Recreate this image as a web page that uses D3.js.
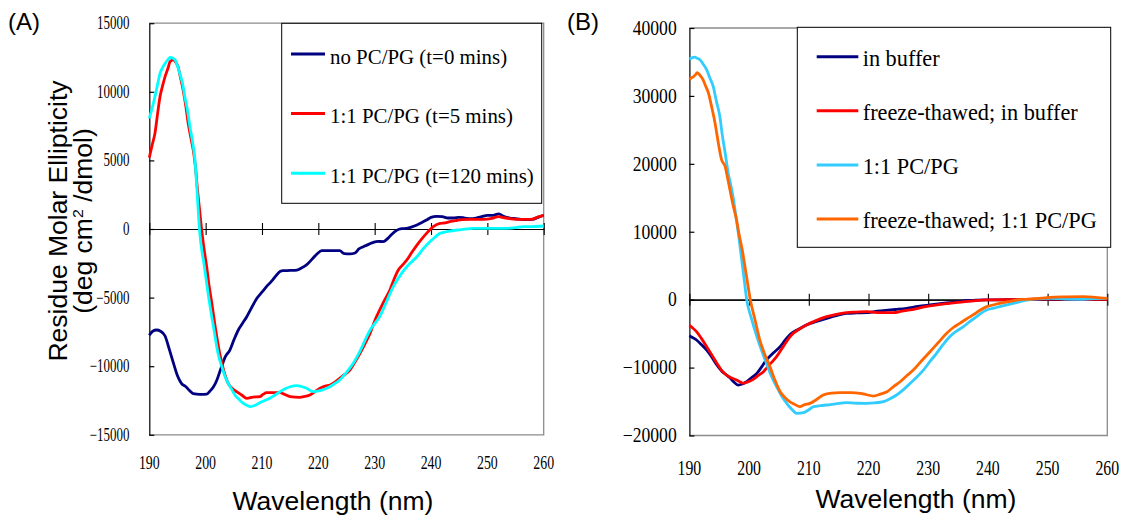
<!DOCTYPE html>
<html>
<head>
<meta charset="utf-8">
<script src="https://cdn.jsdelivr.net/npm/d3@7"></script>
<style>
  body { margin: 0; background: #fff; }
  svg { display: block; }
</style>
</head>
<body>
<svg id="chart" width="1123" height="516"></svg>
<script>
// ---- tick values & labels ----
const wavelengthTicks = [190, 200, 210, 220, 230, 240, 250, 260];
const yTicksA = [15000, 10000, 5000, 0, -5000, -10000, -15000];
const yTicksB = [40000, 30000, 20000, 10000, 0, -10000, -20000];

const legendA = ["no PC/PG (t=0 mins)", "1:1 PC/PG (t=5 mins)", "1:1 PC/PG (t=120 mins)"];
const legendB = ["in buffer", "freeze-thawed; in buffer", "1:1 PC/PG", "freeze-thawed; 1:1 PC/PG"];
const colorsA = ["#000080", "#ff0000", "#00ffff"];
const colorsB = ["#000080", "#ff0000", "#33ccff", "#ff6600"];

// ---- panel A spectra: [wavelength (nm), residue molar ellipticity] ----
const noLipid = [[190,-7750],[190.6,-7450],[191.3,-7360],[192,-7450],[192.8,-7800],[193.5,-8700],[194.3,-9800],[195,-10700],[195.7,-11250],[196.5,-11500],[197.2,-11800],[197.8,-12000],[199,-12050],[200.2,-12030],[200.8,-11800],[201.4,-11500],[202,-11000],[202.8,-10050],[203.5,-9300],[204.3,-8820],[205,-8100],[205.8,-7360],[206.5,-6900],[207.3,-6390],[208.2,-5700],[209.1,-5050],[210,-4600],[210.8,-4200],[211.7,-3800],[212.6,-3350],[213.2,-3100],[213.8,-3040],[215,-3020],[216.2,-2990],[217,-2850],[217.9,-2620],[219,-2150],[219.8,-1800],[220.6,-1580],[222,-1580],[223.8,-1580],[224.6,-1800],[225.6,-1820],[226.5,-1750],[227.2,-1450],[228,-1290],[229,-1100],[229.8,-970],[230.6,-900],[231.5,-920],[232.3,-700],[233,-400],[233.9,-100],[234.8,20],[235.7,48],[236.6,150],[237.5,291],[238.3,450],[239.2,650],[240,850],[241,920],[242,900],[243,800],[244,800],[245,850],[246,800],[247,750],[248,800],[249,900],[250,1000],[251,1000],[252,1100],[253,900],[254,800],[255,750],[256,700],[257,680],[258,700],[259,850],[260,1000]];

const lipid5min = [[190,5200],[190.5,6100],[191,6970],[191.5,8500],[191.9,9640],[192.4,10500],[192.8,11100],[193.3,11700],[193.7,12200],[194.3,12320],[194.7,12150],[195.1,11830],[195.5,11100],[196,10130],[196.5,8900],[196.9,7700],[197.4,6600],[197.8,5750],[198.2,4500],[198.5,3080],[198.9,1500],[199.3,-80],[199.7,-1400],[200.2,-2800],[200.6,-4100],[201.1,-5420],[201.8,-7400],[202.5,-9070],[203.2,-10300],[204,-11250],[204.8,-11650],[205.5,-11860],[206.4,-12100],[207.3,-12340],[208.4,-12250],[209.6,-12220],[210.2,-12050],[210.8,-11930],[212,-11930],[213.2,-11930],[214,-12050],[215,-12220],[216.7,-12270],[217.6,-12200],[218.5,-12100],[219.4,-11850],[220.3,-11610],[221.2,-11450],[222.1,-11370],[223,-11150],[223.8,-10890],[224.7,-10600],[225.6,-10280],[226.5,-9700],[227.4,-9060],[228.3,-8350],[229.2,-7600],[230,-6700],[230.9,-5900],[231.8,-5150],[232.7,-4450],[233.4,-3700],[234.2,-2990],[235,-2600],[235.7,-2260],[236.6,-1700],[237.5,-1170],[238.4,-700],[239.2,-316],[240.4,170],[241.6,413],[242.5,450],[243.5,550],[244.5,620],[245.5,680],[247,700],[248.5,700],[250,720],[251,800],[252,900],[253,820],[254,750],[255,700],[257,700],[258,720],[259,880],[260,1000]];

const lipid120min = [[190,8060],[190.5,8800],[191,9640],[191.5,10600],[191.9,11340],[192.4,11800],[192.8,12070],[193.3,12350],[193.7,12510],[194.2,12450],[194.6,12320],[195,11900],[195.4,11340],[195.9,10600],[196.3,9640],[196.8,8600],[197.2,7460],[197.7,6300],[198.1,5030],[198.5,2600],[198.9,0],[199.8,-2800],[200.7,-5420],[201.5,-7400],[202.2,-9070],[203,-10200],[203.7,-11000],[204.5,-11600],[205.2,-12100],[206,-12450],[206.7,-12710],[207.3,-12850],[207.9,-12950],[208.8,-12850],[209.6,-12660],[210.5,-12500],[211.4,-12340],[212.3,-12100],[213.2,-11860],[214.1,-11650],[215,-11500],[216.2,-11420],[217,-11480],[217.9,-11610],[219.1,-11860],[220.3,-11780],[221.5,-11610],[222.6,-11350],[223.8,-11000],[225,-10450],[226.2,-9790],[227.4,-8900],[228.3,-8100],[229.2,-7360],[230,-6900],[230.9,-6390],[232.1,-5300],[233.3,-4200],[234.5,-3400],[235.7,-2750],[236.6,-2380],[237.5,-2020],[238.6,-1450],[239.8,-930],[240.7,-600],[241.6,-316],[243,-180],[244.6,-73],[246,-10],[247.5,48],[250.5,48],[253.4,48],[255,100],[256.4,170],[258,180],[260,220]];

// ---- panel B spectra ----
const buffer = [[190,-5300],[190.6,-5600],[191.2,-5940],[192,-6600],[192.9,-7410],[193.8,-8500],[194.6,-9620],[195.4,-10500],[196.2,-11090],[196.8,-11500],[197.4,-12080],[198.2,-12570],[198.9,-12400],[199.6,-12080],[200.4,-11500],[201.3,-10850],[202.1,-9900],[202.9,-8880],[204,-7900],[205.2,-6920],[206.1,-5900],[207.1,-4960],[208.3,-4350],[209.6,-3730],[211.3,-3200],[213,-2750],[214.6,-2350],[216.3,-2010],[218,-1950],[219.7,-1910],[221,-1750],[222.5,-1620],[224.5,-1450],[226.4,-1270],[228.3,-1000],[230.3,-780],[232,-600],[233.6,-440],[235,-300],[236.4,-140],[238,-80],[239.8,-40],[242,-20],[244.8,0],[247.5,30],[250.4,50],[253,50],[256,50],[260,50]];

const ftBuffer = [[190,-3800],[190.6,-4200],[191.2,-4710],[192,-5700],[192.9,-6920],[193.8,-8200],[194.6,-9370],[195.4,-10400],[196.2,-11090],[197,-11500],[197.9,-11830],[198.5,-12100],[199,-12320],[199.8,-12100],[200.7,-11730],[201.5,-11200],[202.4,-10600],[203.5,-9500],[204.6,-8390],[205.8,-6800],[207.1,-5200],[208.3,-4400],[209.6,-3730],[211.3,-3050],[213,-2500],[214.6,-2150],[216.3,-1910],[218,-1830],[219.7,-1760],[220.8,-1850],[221.9,-1910],[223,-1910],[224.2,-1910],[225.6,-1700],[227,-1520],[228.6,-1200],[230.3,-930],[232,-700],[233.6,-540],[235.5,-350],[237.5,-190],[239,-80],[240.3,-40],[242.5,-10],[244.8,0],[247.5,60],[250.4,100],[253,80],[256,50],[260,50]];

const lipid = [[190,35400],[190.4,35600],[190.9,35700],[191.3,35550],[191.8,35300],[192.3,34700],[192.9,33830],[193.4,32700],[194,31370],[194.5,29300],[195.1,26960],[195.5,24300],[196,21550],[196.5,18610],[197,16600],[197.4,14680],[197.8,12200],[198.2,9770],[198.6,7000],[199.1,3500],[199.6,0],[200.4,-2800],[201.3,-5450],[202.1,-7500],[202.9,-9370],[203.7,-11200],[204.6,-12810],[205.4,-14100],[206.3,-15260],[207.1,-16100],[208,-16740],[209.1,-16640],[210,-16200],[210.8,-15760],[212,-15600],[213,-15510],[214.5,-15350],[216.3,-15170],[218,-15250],[219.7,-15260],[221,-15200],[222.5,-15020],[223.6,-14600],[224.7,-14040],[225.9,-13200],[227,-12320],[228.1,-11400],[229.2,-10360],[230.3,-9100],[231.4,-7900],[232.5,-6600],[233.6,-5450],[234.8,-4600],[235.9,-3970],[237,-3200],[238.1,-2500],[239,-1900],[239.8,-1520],[241,-1250],[242,-1030],[243,-800],[244.2,-540],[245.4,-300],[246.5,-50],[248,100],[250.4,200],[253,100],[256,50],[258,150],[260,200]];

const ftLipid = [[190,32450],[190.4,32700],[190.7,32850],[191,33100],[191.3,33440],[191.8,33000],[192.3,32350],[192.7,31500],[193.2,30390],[193.7,28500],[194.3,25970],[194.8,23300],[195.4,20570],[196,19590],[196.4,17900],[196.8,16150],[197.3,14000],[197.9,11730],[198.3,9700],[198.8,7560],[199.5,3800],[200.2,0],[201,-3000],[201.8,-5940],[202.6,-8000],[203.5,-9870],[204.3,-11800],[205.2,-13550],[206,-14400],[206.8,-15020],[207.6,-15400],[208.5,-15760],[209.3,-15450],[210.2,-15270],[211.3,-14700],[212.4,-14040],[213.8,-13750],[215.2,-13690],[217,-13700],[218.6,-13790],[219.7,-14000],[220.8,-14190],[222,-13900],[223.1,-13550],[224.2,-12800],[225.3,-12080],[226.4,-11200],[227.5,-10360],[228.9,-9000],[230.3,-7660],[231.7,-6300],[233.1,-4960],[234.2,-4100],[235.3,-3480],[236.4,-2850],[237.5,-2250],[238.6,-1600],[239.8,-1030],[241,-750],[242,-540],[243.4,-300],[244.8,-50],[246.2,50],[247.6,100],[249,220],[250.4,350],[253,420],[256,450],[258,350],[260,200]];

const svg = d3.select("#chart");
const SERIF = "'Liberation Serif', 'Times New Roman', serif";
const SANS = "'Liberation Sans', Arial, sans-serif";

// text squeezed horizontally, anchored at (x, y)
function label(parent, x, y, str, opts) {
  const g = parent.append("g")
    .attr("transform", `translate(${x},${y}) scale(${opts.sx || 1},1)`);
  return g.append("text")
    .attr("text-anchor", opts.anchor || "start")
    .attr("font-family", opts.family || SERIF)
    .attr("font-size", opts.size)
    .attr("fill", "#000")
    .text(str);
}

function drawPanel(cfg) {
  const g = svg.append("g");
  const x = d3.scaleLinear().domain([190, 260]).range([cfg.left, cfg.right]);
  const y = d3.scaleLinear().domain(cfg.yDomain).range([cfg.bottom, cfg.top]);

  // plot-area frame (grey), left axis (black)
  g.append("path")
    .attr("d", `M${cfg.left},${cfg.top}H${cfg.right}V${cfg.bottom}H${cfg.left}`)
    .attr("fill", "none").attr("stroke", "#8c8c8c").attr("stroke-width", 1.3);

  g.append("g")
    .attr("transform", `translate(${cfg.left},0)`)
    .call(d3.axisLeft(y).tickValues(cfg.yTicks).tickSize(-5).tickSizeOuter(0).tickFormat(""))
    .call(s => s.selectAll("path,line").attr("stroke", "#000").attr("stroke-width", 1.2));

  // zero line with ticks crossing it
  const zero = g.append("g").attr("transform", `translate(0,${y(0)})`);
  zero.append("g")
    .call(d3.axisBottom(x).tickValues(wavelengthTicks).tickSize(6).tickSizeOuter(0).tickFormat(""));
  zero.append("g")
    .call(d3.axisTop(x).tickValues(wavelengthTicks).tickSize(6).tickSizeOuter(0).tickFormat(""));
  zero.selectAll("path,line").attr("stroke", "#000").attr("stroke-width", 1.1);

  // tick labels
  cfg.yTicks.forEach(v => {
    label(g, cfg.yLabelX, y(v) + cfg.yLabelDy, d3.format("d")(v),
      { anchor: "end", size: cfg.tickSize, sx: cfg.ySx });
  });
  wavelengthTicks.forEach(v => {
    label(g, x(v), cfg.xLabelY, String(v),
      { anchor: "middle", size: cfg.tickSize, sx: cfg.xSx });
  });

  // spectra
  const line = d3.line()
    .x(d => x(d[0])).y(d => y(d[1]))
    .curve(d3.curveMonotoneX);
  cfg.series.forEach((s, i) => {
    g.append("path")
      .datum(s)
      .attr("d", line)
      .attr("fill", "none")
      .attr("stroke", cfg.colors[i])
      .attr("stroke-width", 2.8)
      .attr("stroke-linejoin", "round");
  });

  // legend
  const L = cfg.legend;
  g.append("rect")
    .attr("x", L.x).attr("y", L.y).attr("width", L.w).attr("height", L.h)
    .attr("fill", "#fff").attr("stroke", "#000").attr("stroke-width", 1);
  cfg.names.forEach((name, i) => {
    const ly = L.firstY + i * L.step;
    g.append("line")
      .attr("x1", L.lineX0).attr("x2", L.lineX1)
      .attr("y1", ly).attr("y2", ly)
      .attr("stroke", cfg.colors[i]).attr("stroke-width", 3);
    label(g, L.textX, ly + L.textDy, name, { size: L.size, sx: L.sx });
  });

  // x-axis title
  g.append("text")
    .attr("x", cfg.xTitleX).attr("y", cfg.xTitleY)
    .attr("text-anchor", "middle")
    .attr("font-family", SANS).attr("font-size", 26.5)
    .text("Wavelength (nm)");

  // panel letter
  g.append("text")
    .attr("x", cfg.tagX).attr("y", 29.5)
    .attr("font-family", SANS).attr("font-size", 24)
    .text(cfg.tag);

  return { x, y };
}

drawPanel({
  left: 149.3, right: 543.7, top: 23.2, bottom: 434.8,
  yDomain: [-15000, 15000], yTicks: yTicksA,
  tickSize: 18, ySx: 0.72, xSx: 0.77,
  yLabelX: 129.5, yLabelDy: 6, xLabelY: 469,
  series: [noLipid, lipid5min, lipid120min],
  colors: colorsA, names: legendA,
  legend: { x: 281.7, y: 23.3, w: 260, h: 180,
            firstY: 54, step: 59.6, lineX0: 291, lineX1: 325,
            textX: 330, textDy: 9.5, size: 22, sx: 0.95 },
  xTitleX: 333, xTitleY: 510,
  tag: "(A)", tagX: 8
});

drawPanel({
  left: 689.4, right: 1107.3, top: 28, bottom: 435.5,
  yDomain: [-20000, 40000], yTicks: yTicksB,
  tickSize: 20, ySx: 0.88, xSx: 0.79,
  yLabelX: 676.7, yLabelDy: 6.8, xLabelY: 475,
  series: [buffer, ftBuffer, lipid, ftLipid],
  colors: colorsB, names: legendB,
  legend: { x: 797.3, y: 27.3, w: 313.4, h: 220,
            firstY: 56.7, step: 54.1, lineX0: 816.7, lineX1: 858.3,
            textX: 862.7, textDy: 9, size: 24, sx: 0.93 },
  xTitleX: 916, xTitleY: 508,
  tag: "(B)", tagX: 567
});

// y-axis title of panel A (two lines, rotated)
const yTitle = svg.append("g")
  .attr("transform", "translate(67,221) rotate(-90) scale(1,0.95)");
yTitle.append("text")
  .attr("text-anchor", "middle")
  .attr("font-family", SANS).attr("font-size", 26.5)
  .text("Residue Molar Ellipticity");
const yTitle2 = svg.append("g")
  .attr("transform", "translate(92,221) rotate(-90) scale(1,0.95)");
const t2 = yTitle2.append("text")
  .attr("text-anchor", "middle")
  .attr("font-family", SANS).attr("font-size", 26.5);
t2.append("tspan").text("(deg cm");
t2.append("tspan").attr("dy", -10).attr("font-size", 16).text("2");
t2.append("tspan").attr("dy", 10).text(" /dmol)");
</script>
</body>
</html>
